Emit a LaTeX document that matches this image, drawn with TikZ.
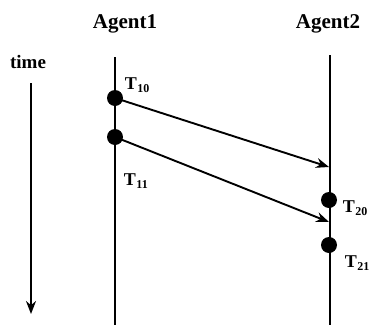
\documentclass[tikz,border=0pt]{standalone}
\usepackage{fontspec}
\setmainfont{Liberation Serif}
\usetikzlibrary{arrows.meta}
\tikzset{event/.style={circle, fill, inner sep=0pt, minimum size=16pt}}
\tikzset{msg/.style={-{Stealth[length=13pt, width=10pt]}}}
\tikzset{lbl/.style={anchor=base west, inner sep=0pt, font=\bfseries\fontsize{18}{18}\selectfont}}
\newcommand{\tlab}[1]{T\kern0.5pt\raisebox{-0.4ex}{\fontsize{12}{12}\selectfont #1}}

\begin{document}
\begin{tikzpicture}[x=1pt, y=-1pt, line width=1.9pt]
\useasboundingbox (0,0) rectangle (373,325);
\node[anchor=base, font=\bfseries\fontsize{21}{21}\selectfont] (ag1) at (125,28) {Agent1};
\node[anchor=base, font=\bfseries\fontsize{21}{21}\selectfont] (ag2) at (328,28) {Agent2};
\node[anchor=base, font=\bfseries\fontsize{19}{19}\selectfont] (time) at (28,68) {time};
\coordinate (ttop) at (31,83);
\coordinate (tbot) at (31,314);
\draw[-{Stealth[length=13pt, width=10pt]}] (ttop) -- (tbot);
\coordinate (l1top) at (115,57);
\coordinate (l1bot) at (115,325);
\coordinate (l2top) at (330,55);
\coordinate (l2bot) at (330,325);
\draw (l1top) -- (l1bot);
\draw (l2top) -- (l2bot);
\node[event] (e10) at (115,98) {};
\node[event] (e11) at (115,137) {};
\node[event] (e20) at (329,200) {};
\node[event] (e21) at (329,245) {};
\coordinate (r10) at (329,167);
\coordinate (r11) at (329,222);
\draw[msg] (e10.center) -- (r10);
\draw[msg] (e11.center) -- (r11);
\node[lbl] (t10) at (124,89) {\tlab{10}};
\node[lbl] (t11) at (123,185) {\tlab{11}};
\node[lbl] (t20) at (342,212) {\tlab{20}};
\node[lbl] (t21) at (344,267) {\tlab{21}};
\end{tikzpicture}
\end{document}
